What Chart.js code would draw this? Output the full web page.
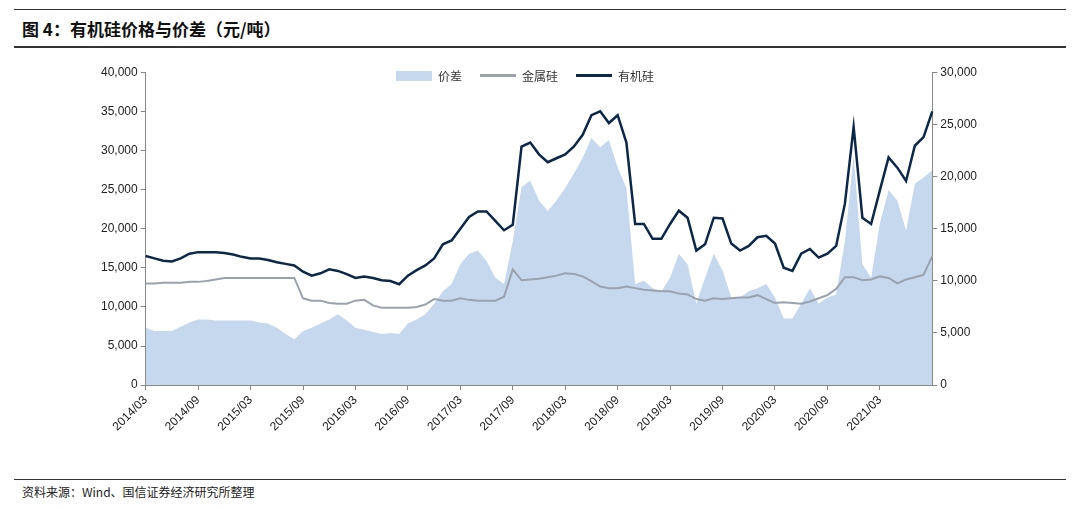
<!DOCTYPE html>
<html>
<head>
<meta charset="utf-8">
<script src="https://cdn.jsdelivr.net/npm/chart.js@4"></script>
<style>
  body { margin:0; width:1080px; height:508px; background:#fff; font-family:"Noto Sans CJK SC", sans-serif; position:relative; overflow:hidden; }
  #topline { position:absolute; left:14px; right:14px; top:9px; border-top:1px solid #333; }
  #title { position:absolute; left:22px; top:16px; font-size:17px; font-weight:bold; color:#111; }
  #midline { position:absolute; left:14px; right:14px; top:46px; border-top:2px solid #333; }
  #box { position:absolute; left:0; top:62px; width:1080px; height:375px; }
  #legend { position:absolute; top:67px; left:396px; font-size:12px; color:#333; display:flex; gap:18px; align-items:center; }
  #legend span { display:inline-flex; align-items:center; gap:6px; }
  #legend i { display:inline-block; width:36px; }
  #botline { position:absolute; left:14px; right:14px; top:479px; border-top:1px solid #333; }
  #src { position:absolute; left:22px; top:483px; font-size:12px; color:#222; }
</style>
</head>
<body>
<div id="topline"></div>
<div id="title">图 4：有机硅价格与价差（元/吨）</div>
<div id="midline"></div>
<div id="box"><canvas id="chart"></canvas></div>
<div id="legend">
  <span><i style="height:10px;background:#c6d8ee"></i>价差</span>
  <span><i style="height:3px;background:#9aa3ad"></i>金属硅</span>
  <span><i style="height:3px;background:#0c2748"></i>有机硅</span>
</div>
<div id="botline"></div>
<div id="src">资料来源：Wind、国信证券经济研究所整理</div>
<script>
// monthly, 2014/03 - 2021/09
const months = [];
for (let y = 2014; y <= 2021; y++) {
  for (let m = 1; m <= 12; m++) {
    if ((y === 2014 && m < 3) || (y === 2021 && m > 9)) continue;
    months.push(y + "/" + String(m).padStart(2, "0"));
  }
}

const organo = [
  16500,16200,15900,15800,16200,16800,17000,17000,17000,16900,
  16700,16400,16200,16200,16000,15700,15500,15300,14500,14000,14300,14800,
  14600,14200,13700,13900,13700,13400,13300,12900,14000,14700,15300,16200,
  18000,18500,20000,21500,22200,22200,21000,19800,20500,30500,31000,29500,
  28500,29000,29500,30500,32000,34500,35000,33500,34500,31000,20600,20600,
  18700,18700,20600,22300,21400,17200,18000,21400,21300,18100,17200,17800,
  18900,19100,18100,15000,14600,16800,17400,16300,16800,17800,23200,33000,
  21400,20600,24900,29100,27800,26100,30600,31700,35000
];
const metal = [
  13000,13000,13100,13100,13100,13200,13200,13300,13500,13700,
  13700,13700,13700,13700,13700,13700,13700,13700,11100,10800,10800,10500,
  10400,10400,10800,10900,10200,9900,9900,9900,9900,10000,10300,11000,
  10800,10800,11100,10900,10800,10800,10800,11300,14800,13400,13500,13600,
  13800,14000,14300,14200,13900,13300,12600,12400,12400,12600,12400,12200,
  12100,12000,12000,11700,11600,11000,10800,11100,11000,11100,11200,11200,
  11500,11000,10500,10600,10500,10400,10700,11100,11500,12300,13800,13800,
  13400,13500,13900,13700,13000,13500,13800,14100,16500
];
const spread = [
  5500,5200,5200,5200,5600,6000,6300,6300,6200,6200,
  6200,6200,6200,6000,5900,5500,4900,4400,5200,5500,5900,6300,
  6800,6200,5500,5300,5100,4900,5000,4900,5900,6300,6800,7800,
  9000,9700,11600,12600,12900,11900,10300,9700,13800,19000,19600,17700,
  16700,17700,18900,20300,21800,23700,22800,23500,20900,18900,9700,10000,
  9300,9000,10300,12600,11600,7800,10300,12600,11000,8400,8400,9000,
  9300,9700,8400,6400,6400,7800,9300,7800,8400,8700,13800,22000,
  11600,10300,15500,18700,17700,14800,19300,19900,20600
];

const tickFont = { family: "Arial, 'Liberation Sans', sans-serif", size: 12 };
const fmt = v => v.toLocaleString("en-US");

new Chart(document.getElementById("chart"), {
  type: "line",
  data: {
    labels: months,
    datasets: [
      { label: "价差", data: spread, yAxisID: "y1", fill: "origin",
        backgroundColor: "#c6d8ee", borderWidth: 0, pointRadius: 0, order: 3 },
      { label: "金属硅", data: metal, yAxisID: "y", fill: false,
        borderColor: "#9aa3ad", borderWidth: 2, pointRadius: 0, order: 2 },
      { label: "有机硅", data: organo, yAxisID: "y", fill: false,
        borderColor: "#0c2748", borderWidth: 2.5, pointRadius: 0, order: 1 }
    ]
  },
  options: {
    responsive: true,
    maintainAspectRatio: false,
    animation: false,
    layout: { padding: { left: 98, right: 100, top: 10, bottom: 0 } },
    plugins: { legend: { display: false }, tooltip: { enabled: false } },
    scales: {
      x: {
        grid: { display: true, drawOnChartArea: false, tickLength: 5, color: "#888" },
        border: { color: "#888" },
        afterBuildTicks: s => { s.ticks = s.ticks.filter(t => t.value % 6 === 0 && t.value < 88); },
        ticks: { autoSkip: false, maxRotation: 45, minRotation: 45, font: tickFont, color: "#222",
          callback: function (v) { return this.getLabelForValue(v); } }
      },
      y: {
        position: "left", min: 0, max: 40000,
        grid: { display: true, drawOnChartArea: false, tickLength: 5, color: "#888" },
        border: { color: "#888" },
        ticks: { stepSize: 5000, font: tickFont, color: "#222", callback: fmt }
      },
      y1: {
        position: "right", min: 0, max: 30000,
        grid: { display: true, drawOnChartArea: false, tickLength: 5, color: "#888" },
        border: { color: "#888" },
        ticks: { stepSize: 5000, font: tickFont, color: "#222", callback: fmt }
      }
    }
  }
});
</script>
</body>
</html>
